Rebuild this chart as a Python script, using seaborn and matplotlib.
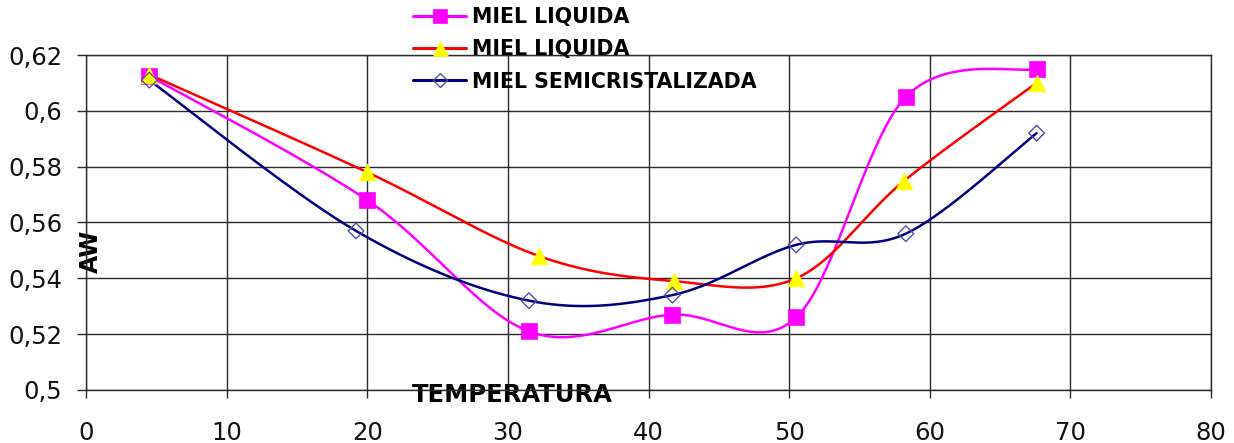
import numpy as np
import pandas as pd
import matplotlib
matplotlib.use("Agg")
import matplotlib.pyplot as plt
from matplotlib.lines import Line2D
import seaborn as sns

# Water activity (AW) of honey samples against temperature
temp_liq1 = [4.5, 20.0, 31.5, 41.7, 50.5, 58.3, 67.6]
aw_liq1 = [0.6125, 0.568, 0.521, 0.527, 0.526, 0.605, 0.615]

temp_liq2 = [4.5, 20.0, 32.2, 41.8, 50.5, 58.2, 67.6]
aw_liq2 = [0.613, 0.578, 0.548, 0.539, 0.540, 0.575, 0.610]

temp_semi = [4.5, 19.2, 31.5, 41.7, 50.5, 58.3, 67.6]
aw_semi = [0.611, 0.557, 0.532, 0.534, 0.552, 0.556, 0.592]

series_names = ["MIEL LIQUIDA", "MIEL LIQUIDA", "MIEL SEMICRISTALIZADA"]

x_ticks = [0, 10, 20, 30, 40, 50, 60, 70, 80]
y_ticks = [0.5, 0.52, 0.54, 0.56, 0.58, 0.6, 0.62]
y_tick_labels = ["0,5", "0,52", "0,54", "0,56", "0,58", "0,6", "0,62"]


def smooth_curve(xs, ys, steps=40):
    """Cubic Bezier smoothing through every point (Catmull-Rom tangents)."""
    p = np.column_stack([xs, ys]).astype(float)
    ext = np.vstack([p[0], p, p[-1]])
    out = [p[0]]
    t = np.linspace(0, 1, steps)[1:, None]
    for i in range(len(p) - 1):
        p0, p3 = ext[i + 1], ext[i + 2]
        c1 = p0 + (ext[i + 2] - ext[i]) / 6.0
        c2 = p3 - (ext[i + 3] - ext[i + 1]) / 6.0
        seg = ((1 - t) ** 3) * p0 + 3 * ((1 - t) ** 2) * t * c1 \
            + 3 * (1 - t) * t ** 2 * c2 + t ** 3 * p3
        out.extend(seg)
    out = np.array(out)
    return out[:, 0], out[:, 1]


sns.set_theme(style="white")
plt.rcParams["font.family"] = ["DejaVu Sans"]

W, H = 1234, 443
fig = plt.figure(figsize=(W / 100, H / 100), dpi=100)
fig.patch.set_facecolor("white")
ax = fig.add_axes([86 / W, 1 - 390 / H, (1211 - 86) / W, (390 - 55) / H])
ax.set_facecolor("white")

styles = [
    dict(color="#FF00FF", marker="s", mfc="#FF00FF", mec="#FF00FF", ms=11, mew=0.5),
    dict(color="#FF0000", marker="^", mfc="#FFFF00", mec="#FFFF00", ms=12, mew=0.5),
    dict(color="#000080", marker="D", mfc="none", mec="#5050A8", ms=8, mew=1.0),
]
data = [(temp_liq1, aw_liq1), (temp_liq2, aw_liq2), (temp_semi, aw_semi)]

for (xs, ys), st in zip(data, styles):
    cx, cy = smooth_curve(xs, ys)
    curve = pd.DataFrame({"T": cx, "AW": cy})
    sns.lineplot(data=curve, x="T", y="AW", sort=False, ax=ax,
                 color=st["color"], linewidth=1.8, zorder=3)
for (xs, ys), st in zip(data, styles):
    pts = pd.DataFrame({"T": xs, "AW": ys})
    sns.scatterplot(data=pts, x="T", y="AW", ax=ax, marker=st["marker"],
                    s=st["ms"] ** 2, facecolor=st["mfc"], edgecolor=st["mec"],
                    linewidth=st["mew"], zorder=4, clip_on=False)

ax.set_xlim(0, 80)
ax.set_ylim(0.5, 0.62)
ax.set_xticks(x_ticks)
ax.set_xticklabels([str(v) for v in x_ticks])
ax.set_yticks(y_ticks)
ax.set_yticklabels(y_tick_labels)

grid_color = "#2a2a2a"
ax.grid(True, color=grid_color, linewidth=1.0)
ax.set_axisbelow(True)
for sp in ax.spines.values():
    sp.set_color(grid_color)
    sp.set_linewidth(1.0)

ax.tick_params(axis="y", direction="out", length=6.5, width=1.0, color=grid_color,
               pad=10.5, labelsize=17.5, labelcolor="#111111", left=True)
ax.tick_params(axis="x", direction="out", length=6, width=1.0, color=grid_color,
               pad=16, labelsize=17.5, labelcolor="#111111", bottom=True)

ax.set_xlabel("TEMPERATURA", fontsize=17.5, fontweight="bold", color="black")
ax.xaxis.label.set_va("center")
ax.xaxis.set_label_coords((512 - 86) / 1125, (390 - 395) / 335)

ax.set_ylabel("AW", fontsize=17, fontweight="bold", color="black")
ax.yaxis.label.set_va("center")
ax.yaxis.set_label_coords((91 - 86) / 1125, (390 - 251) / 335)

handles = [Line2D([0], [0], color=st["color"], linewidth=2.2, marker=st["marker"],
                  markerfacecolor=st["mfc"], markeredgecolor=st["mec"],
                  markersize=st["ms"] * 0.9, markeredgewidth=st["mew"])
           for st in styles]
leg = fig.legend(handles, series_names, loc="upper left",
                 bbox_to_anchor=(413 / W, 1 - 7 / H), frameon=False,
                 borderpad=0, borderaxespad=0, handlelength=2.6,
                 handletextpad=0.25, labelspacing=0.6, labelcolor="black",
                 prop=dict(family="DejaVu Sans", weight="bold", size=14.8))
leg.set_zorder(5)

fig.savefig("out.png", dpi=100)
